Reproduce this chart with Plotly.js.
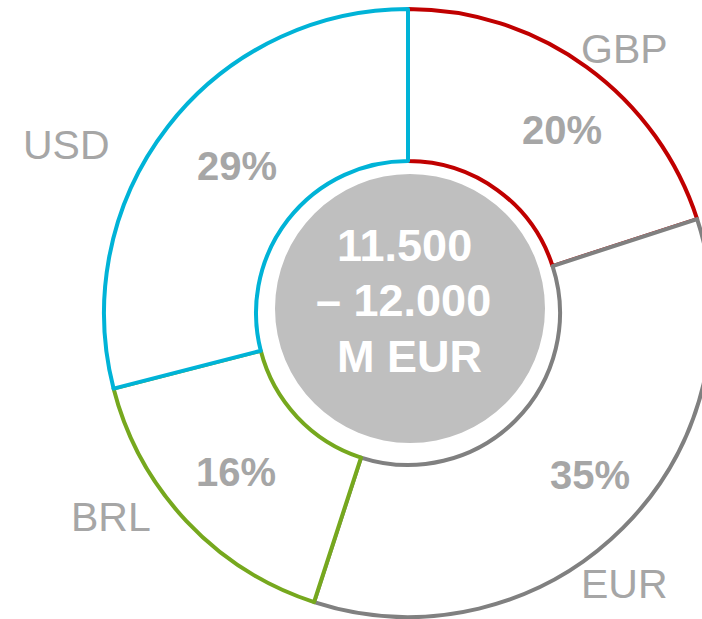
<!DOCTYPE html>
<html>
<head>
<meta charset="utf-8">
<script src="https://cdn.plot.ly/plotly-3.0.1.min.js"></script>
<style>
html,body{margin:0;padding:0;overflow:hidden;background:#fff;width:702px;height:619px;}
#chart{width:816px;height:619px;}
</style>
</head>
<body>
<div id="chart"></div>
<script>
// Data
var currencies = ['GBP', 'EUR', 'BRL', 'USD'];
var shares = [20, 35, 16, 29];
var sliceColors = ['#C00000', '#808080', '#76A81E', '#00B3D7'];
var centerLines = ['11.500', '– 12.000', 'M EUR'];

// Layout config (pixel positions of text labels)
var W = 816, H = 619, MT = 9, MB = 2;
var labelPos = [[624, 47], [624, 582], [111, 515], [66, 143]];
var pctPos = [[562, 128], [590, 473], [236, 470], [237, 164]];
var centerPos = [[404, 243], [403, 298.5], [409, 354]];
function px(x) { return x / W; }
function py(y) { return 1 - (y - MT) / (H - MT - MB); }

var FONT = '"Liberation Sans", Arial, sans-serif';
var annotations = [];
currencies.forEach(function (c, i) {
  annotations.push({
    text: c, xref: 'paper', yref: 'paper',
    x: px(labelPos[i][0]), y: py(labelPos[i][1]),
    xanchor: 'center', yanchor: 'middle', showarrow: false, yshift: -2,
    font: {family: FONT, size: 41, color: '#A6A6A6'}
  });
  annotations.push({
    text: '<b>' + shares[i] + '%</b>', xref: 'paper', yref: 'paper',
    x: px(pctPos[i][0]), y: py(pctPos[i][1]),
    xanchor: 'center', yanchor: 'middle', showarrow: false, yshift: -2,
    font: {family: FONT, size: 40, color: '#A6A6A6'}
  });
});
centerLines.forEach(function (t, i) {
  annotations.push({
    text: '<b>' + t + '</b>', xref: 'paper', yref: 'paper',
    x: px(centerPos[i][0]), y: py(centerPos[i][1]),
    xanchor: 'center', yanchor: 'middle', showarrow: false, yshift: -2,
    font: {family: FONT, size: 45, color: '#FFFFFF'}
  });
});

var trace = {
  type: 'pie',
  labels: currencies,
  values: shares,
  sort: false,
  direction: 'clockwise',
  rotation: 0,
  hole: 0.5,
  textinfo: 'none',
  hoverinfo: 'label+percent',
  marker: {
    colors: currencies.map(function () { return '#FFFFFF'; }),
    line: {color: sliceColors, width: 4}
  },
  domain: {x: [0, 1], y: [0, 1]}
};

var layout = {
  width: W, height: H,
  margin: {l: 0, r: 0, t: MT, b: MB, pad: 0},
  paper_bgcolor: '#FFFFFF',
  plot_bgcolor: '#FFFFFF',
  showlegend: false,
  shapes: [{
    type: 'circle', xref: 'paper', yref: 'paper',
    xsizemode: 'pixel', ysizemode: 'pixel',
    xanchor: 0.5, yanchor: 0.5,
    x0: -133, x1: 137, y0: -130, y1: 139,
    fillcolor: '#BFBFBF', line: {width: 0}, layer: 'above'
  }],
  annotations: annotations
};

Plotly.newPlot('chart', [trace], layout, {displayModeBar: false, staticPlot: true});
</script>
</body>
</html>
